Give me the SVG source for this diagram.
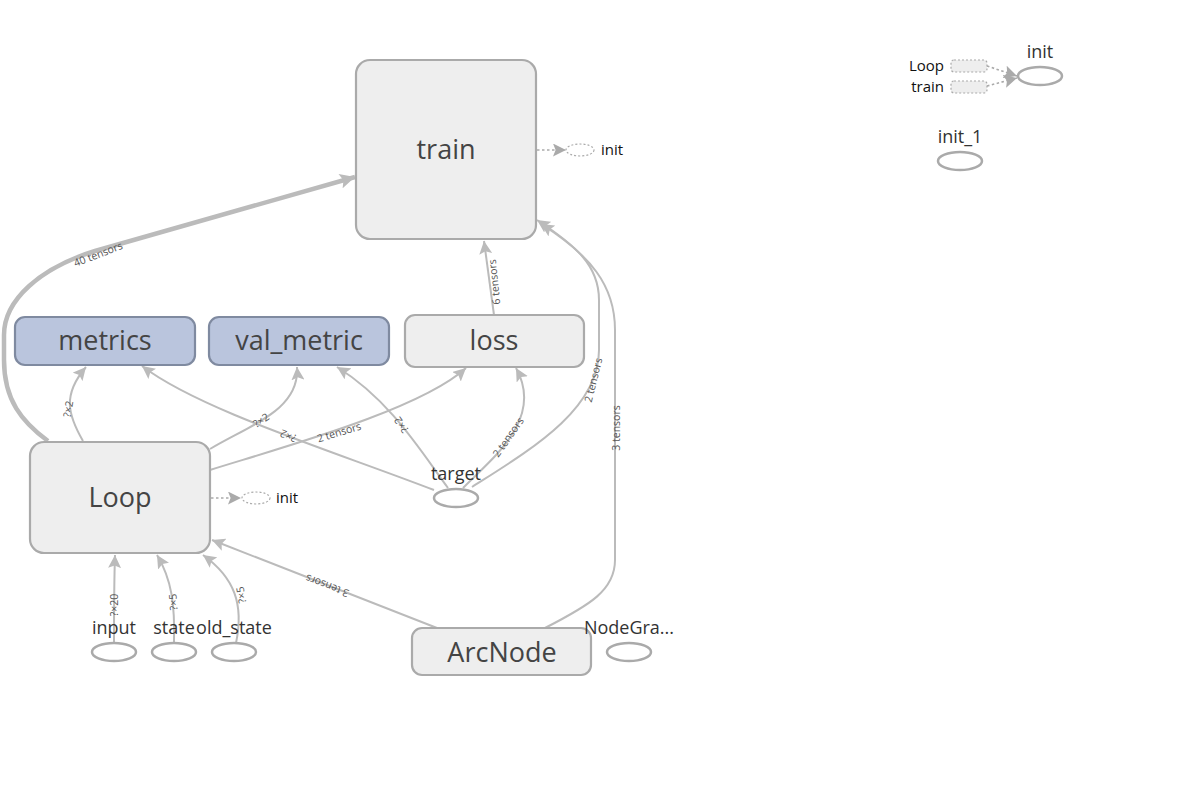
<svg xmlns="http://www.w3.org/2000/svg" width="1182" height="795" viewBox="0 0 1182 795">
<style>
.bg{fill:#fff}
.grp{fill:#eeeeee;stroke:#aaaaaa;stroke-width:2.2}
.meta{fill:#bac5dd;stroke:#7f8aa0;stroke-width:2.2}
.op{fill:#fff;stroke:#aaaaaa;stroke-width:2.5}
.big{font-family:"Open Sans","Noto Sans",sans-serif;font-size:27px;fill:#444;text-anchor:middle}
.lbl{font-family:"Open Sans","Noto Sans",sans-serif;font-size:18px;fill:#333;text-anchor:middle}
.sm{font-family:"Open Sans","Noto Sans",sans-serif;font-size:15px;fill:#111}
.el{font-family:"Open Sans","Noto Sans",sans-serif;font-size:10.5px;fill:#555;text-anchor:middle;dominant-baseline:central}
.e{fill:none;stroke:#bbbbbb;stroke-width:2}
.thick{fill:none;stroke:#bbbbbb;stroke-width:4.5}
.ctl{fill:none;stroke:#aaaaaa;stroke-width:1.6;stroke-dasharray:2.5,2.5}
.dop{fill:#fff;stroke:#aaaaaa;stroke-width:1.2;stroke-dasharray:2,2}
.drect{fill:#eeeeee;stroke:#aaaaaa;stroke-width:1.2;stroke-dasharray:2,2}
</style>
<defs>
<marker id="arr" viewBox="0 0 10 10" refX="10" refY="5" markerWidth="13" markerHeight="13" orient="auto" markerUnits="userSpaceOnUse"><path d="M0,0 L10,5 L0,10 L2,5 z" fill="#bbbbbb"/></marker>
<marker id="arrT" viewBox="0 0 10 10" refX="10" refY="5" markerWidth="16" markerHeight="15" orient="auto" markerUnits="userSpaceOnUse"><path d="M0,0 L10,5 L0,10 L2,5 z" fill="#bbbbbb"/></marker>
<marker id="arrD" viewBox="0 0 10 10" refX="10" refY="5" markerWidth="13" markerHeight="13" orient="auto" markerUnits="userSpaceOnUse"><path d="M0,0 L10,5 L0,10 L2,5 z" fill="#aaaaaa"/></marker>
</defs>
<rect class="bg" x="0" y="0" width="1182" height="795"/>

<g id="connectors">
<path class="thick" d="M48,441 C22,422 4,400 4,360 L4,335 C4,300 40,268 95,251 L355,177" marker-end="url(#arrT)"/>
<path class="e" d="M83,441 C68,415 62,395 86,367" marker-end="url(#arr)"/>
<path class="e" d="M210,449 C250,425 300,410 297,367" marker-end="url(#arr)"/>
<path class="e" d="M210,470 C280,448 420,410 466,368" marker-end="url(#arr)"/>
<path class="e" d="M434,490 C330,450 200,410 142,366" marker-end="url(#arr)"/>
<path class="e" d="M448,488 C420,450 390,400 337,367" marker-end="url(#arr)"/>
<path class="e" d="M463,488 C490,460 545,420 516,368" marker-end="url(#arr)"/>
<path class="e" d="M472,487 C530,450 599,410 599,350 L599,300 C599,265 575,245 537,220" marker-end="url(#arr)"/>
<path class="e" d="M494,315 L484,241" marker-end="url(#arr)"/>
<path class="e" d="M545,628 C590,605 615,590 615,560 L615,330 C615,285 590,255 541,224" marker-end="url(#arr)"/>
<path class="e" d="M437,628 L212,540" marker-end="url(#arr)"/>
<path class="e" d="M114,643 C114,615 114,585 115,555" marker-end="url(#arr)"/>
<path class="e" d="M174,643 C175,605 172,580 157,555" marker-end="url(#arr)"/>
<path class="e" d="M236,643 C244,605 235,578 203,555" marker-end="url(#arr)"/>
<path class="ctl" d="M537,150 L566,150" marker-end="url(#arrD)"/>
<path class="ctl" d="M211,498 L241,498" marker-end="url(#arrD)"/>
<path class="ctl" d="M987,66 L1017,76" marker-end="url(#arrD)"/>
<path class="ctl" d="M987,86 L1017,78" marker-end="url(#arrD)"/>
<text class="el" transform="translate(98,254) rotate(-21)">40 tensors</text>
<text class="el" transform="translate(68,409) rotate(-80)">?×2</text>
<text class="el" transform="translate(261,420) rotate(-35)">?×2</text>
<text class="el" transform="translate(339,432) rotate(-17)">2 tensors</text>
<text class="el" transform="translate(288,436) rotate(203)">?×2</text>
<text class="el" transform="translate(401,425) rotate(235)">?×2</text>
<text class="el" transform="translate(508,437) rotate(-55)">2 tensors</text>
<text class="el" transform="translate(593,380) rotate(-76)">2 tensors</text>
<text class="el" transform="translate(494,282) rotate(-96)">6 tensors</text>
<text class="el" transform="translate(616,428) rotate(-90)">3 tensors</text>
<text class="el" transform="translate(327,586) rotate(201)">3 tensors</text>
<text class="el" transform="translate(114,605) rotate(-90)">?×20</text>
<text class="el" transform="translate(173,602) rotate(-94)">?×5</text>
<text class="el" transform="translate(241,595) rotate(-100)">?×5</text>
</g>

<g id="train">
<rect class="grp" x="356" y="60" width="180" height="179" rx="14"/>
<text class="big" x="446" y="159">train</text>
</g>
<g id="train_init">
<ellipse class="dop" cx="580" cy="150" rx="14" ry="6"/>
<text class="sm" x="601" y="155">init</text>
</g>
<g id="metrics">
<rect class="meta" x="15" y="317" width="180" height="48" rx="10"/>
<text class="big" x="105" y="350">metrics</text>
</g>
<g id="val_metric">
<rect class="meta" x="209" y="317" width="180" height="48" rx="10"/>
<text class="big" x="299" y="350">val_metric</text>
</g>
<g id="loss">
<rect class="grp" x="405" y="315" width="179" height="52" rx="10"/>
<text class="big" x="494" y="350">loss</text>
</g>
<g id="Loop">
<rect class="grp" x="30" y="442" width="180" height="111" rx="14"/>
<text class="big" x="120" y="507">Loop</text>
</g>
<g id="Loop_init">
<ellipse class="dop" cx="256" cy="498" rx="14" ry="6"/>
<text class="sm" x="276" y="503">init</text>
</g>
<g id="target">
<ellipse class="op" cx="456" cy="498" rx="22" ry="9"/>
<text class="lbl" x="456" y="480">target</text>
</g>
<g id="input">
<ellipse class="op" cx="114" cy="652" rx="22" ry="9"/>
<text class="lbl" x="114" y="634">input</text>
</g>
<g id="state">
<ellipse class="op" cx="174" cy="652" rx="22" ry="9"/>
<text class="lbl" x="174" y="634">state</text>
</g>
<g id="old_state">
<ellipse class="op" cx="234" cy="652" rx="22" ry="9"/>
<text class="lbl" x="234" y="634">old_state</text>
</g>
<g id="ArcNode">
<rect class="grp" x="412" y="628" width="179" height="47" rx="10"/>
<text class="big" x="502" y="662">ArcNode</text>
</g>
<g id="NodeGraph">
<ellipse class="op" cx="629" cy="652" rx="22" ry="9"/>
<text class="lbl" x="629" y="634">NodeGra...</text>
</g>
<g id="init">
<ellipse class="op" cx="1040" cy="76" rx="22" ry="9"/>
<text class="lbl" x="1040" y="58">init</text>
<rect class="drect" x="951" y="60" width="36" height="12" rx="3"/>
<rect class="drect" x="951" y="81" width="36" height="12" rx="3"/>
<text class="sm" x="944" y="71" text-anchor="end">Loop</text>
<text class="sm" x="944" y="92" text-anchor="end">train</text>
</g>
<g id="init_1">
<ellipse class="op" cx="960" cy="161" rx="22" ry="9"/>
<text class="lbl" x="960" y="143">init_1</text>
</g>
</svg>
